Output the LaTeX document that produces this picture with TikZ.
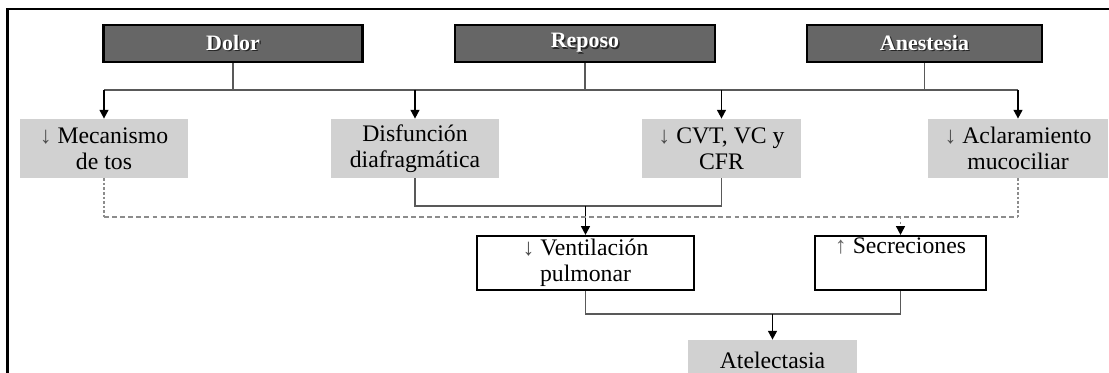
\documentclass[tikz,border=0pt]{standalone}
\usepackage{fontspec}
\setmainfont{Liberation Serif}
\usetikzlibrary{arrows.meta}

\newcommand{\hdrtext}[1]{\makebox[0pt][l]{\hspace{0.8pt}\raisebox{-0.8pt}{\color{black!85}#1}}#1}
\newcommand{\arrdown}{{\color{black!70}↓}}
\newcommand{\arrup}{{\color{black!60}↑}}

\begin{document}
\begin{tikzpicture}[
    cause/.style={draw=black, line width=1.2pt, fill=black!60, minimum height=0.74cm, inner sep=0pt, text=white, font=\fontsize{12.5}{13}\selectfont\bfseries},
    effect/.style={fill=black!18, minimum height=1.18cm, align=center, inner sep=0pt, font=\fontsize{13.5}{15}\selectfont},
    result/.style={draw=black, line width=1.2pt, fill=white, minimum height=1.08cm, align=center, inner sep=0pt, font=\fontsize{13.5}{15}\selectfont},
    conn/.style={black!65, line width=1pt},
    arr/.style={black, line width=1pt, -{Triangle[length=5pt,width=5pt]}},
    dotline/.style={black!45, line width=1pt, dash pattern=on 1.4pt off 1.2pt},
    dashline/.style={black!45, line width=1pt, dash pattern=on 2.8pt off 1.8pt},
]
\useasboundingbox (0,0) rectangle (22.18,-7.46);

% Frame
\draw[line width=1.2pt] (0.15,-7.46) -- (0.15,-0.18) -- (22.18,-0.18);

% Causes
\node[cause, minimum width=5.18cm] (dolor) at (4.66,-0.87) {\hdrtext{Dolor}};
\node[cause, minimum width=5.20cm] (reposo) at (11.70,-0.87) {\hdrtext{Reposo}};
\node[cause, minimum width=4.70cm] (anestesia) at (18.49,-0.87) {\hdrtext{Anestesia}};

% Effects
\node[effect, minimum width=3.36cm] (mecanismo) at (2.08,-2.97) {\arrdown{} Mecanismo\\de tos};
\node[effect, minimum width=3.36cm] (disfuncion) at (8.30,-2.97) {Disfunción\\diafragmática};
\node[effect, minimum width=3.18cm] (cvt) at (14.43,-2.97) {\arrdown{} CVT, VC y\\CFR};
\node[effect, minimum width=3.60cm] (aclaramiento) at (20.36,-2.97) {\arrdown{} Aclaramiento\\mucociliar};

% Results
\node[result, minimum width=4.34cm] (ventilacion) at (11.71,-5.26) {\arrdown{} Ventilación\\pulmonar};
\node[result, minimum width=3.42cm] (secreciones) at (18.01,-5.26) {\arrup{} Secreciones\\\strut};
\node[effect, minimum width=3.38cm, minimum height=0.8cm] (atelectasia) at (15.45,-7.20) {Atelectasia};

% Bus levels
\coordinate (busT) at (0,-1.80);
\coordinate (busS) at (0,-4.12);
\coordinate (busD) at (0,-4.34);
\coordinate (busB) at (0,-6.28);

% Causes -> effects
\draw[conn] (dolor.south) -- (dolor.south |- busT);
\draw[conn] (reposo.south) -- (reposo.south |- busT);
\draw[conn] (anestesia.south) -- (anestesia.south |- busT);
\draw[conn] (mecanismo.north |- busT) -- (aclaramiento.north |- busT);
\foreach \n in {mecanismo,disfuncion,cvt,aclaramiento} {
    \draw[arr] (\n.north |- busT) -- (\n.north);
}

% Effects -> ventilacion
\draw[conn] (disfuncion.south) |- (cvt.south |- busS) -- (cvt.south);
\draw[arr] (ventilacion.north |- busS) -- (ventilacion.north);

% Effects -> secreciones
\draw[dotline] (mecanismo.south) -- (mecanismo.south |- busD);
\draw[dotline] (aclaramiento.south) -- (aclaramiento.south |- busD);
\draw[dashline] (mecanismo.south |- busD) -- (aclaramiento.south |- busD);
\draw[dotline, -{Triangle[length=5pt,width=5pt,fill=black,color=black]}] (secreciones.north |- busD) -- (secreciones.north);

% Results -> atelectasia
\draw[conn] (ventilacion.south) |- (secreciones.south |- busB) -- (secreciones.south);
\draw[arr] (atelectasia.north |- busB) -- (atelectasia.north);

\end{tikzpicture}
\end{document}
